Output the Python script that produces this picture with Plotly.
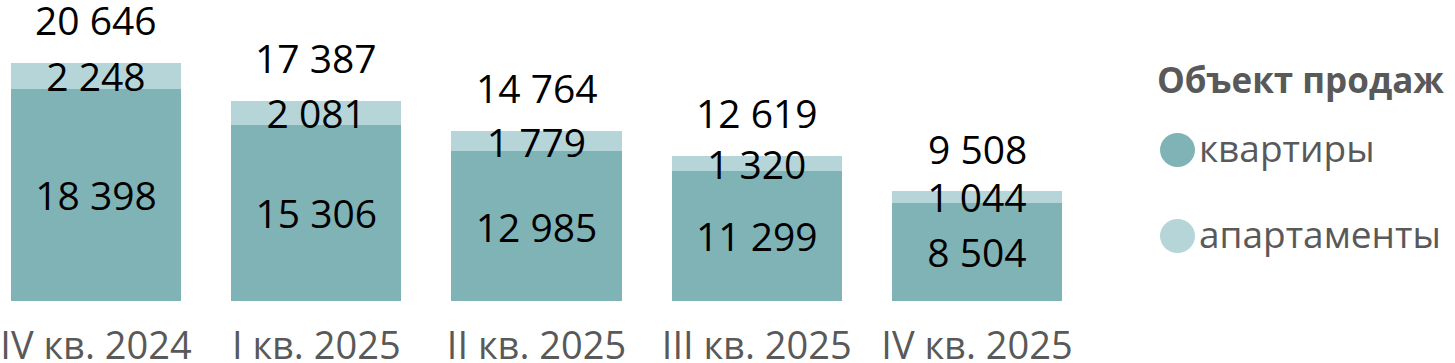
import plotly.graph_objects as go

categories = ["IV кв. 2024", "I кв. 2025", "II кв. 2025", "III кв. 2025", "IV кв. 2025"]
apartments_flats = [18398, 15306, 12985, 11299, 8504]   # квартиры
apartments = [2248, 2081, 1779, 1320, 1044]             # апартаменты
totals = [20646, 17387, 14764, 12619, 9508]

series_names = ["квартиры", "апартаменты"]
colors = ["#80b3b6", "#b6d5d9"]
legend_title = "Объект продаж"

FONT = "Open Sans"
NUM_SIZE = 39
TICK_SIZE = 38
LEG_SIZE = 37
GREY = "#595959"

# page body margin is removed by post_script, so the figure sits at (0, 0)
OFF = 0
FIG_W, FIG_H = 1455 - OFF, 363 - OFF
PLOT_RIGHT = 1100            # page px
PLOT_BOTTOM = 301            # page px
PLOT_W = PLOT_RIGHT - OFF
PLOT_H = PLOT_BOTTOM - OFF
STEP = 220.25                # px per category
FIRST_CENTER = 96            # page px

def fmt(v):
    return f"{v:,}".replace(",", " ")

fig = go.Figure()
for name, vals, col in zip(series_names, [apartments_flats, apartments], colors):
    fig.add_trace(go.Bar(
        x=categories, y=vals, name=name, marker=dict(color=col, line=dict(width=0)),
        text=[fmt(v) for v in vals], textposition="inside", insidetextanchor="middle",
        constraintext="none", textangle=0, cliponaxis=False,
        insidetextfont=dict(family=FONT, size=NUM_SIZE, color="#000000"),
        width=0.772, showlegend=False, hoverinfo="skip",
    ))

annotations = []
for c, t in zip(categories, totals):
    annotations.append(dict(x=c, y=t, text=fmt(t), showarrow=False, yanchor="middle",
                            yshift=43, font=dict(family=FONT, size=NUM_SIZE, color="#000000")))

def px(x):
    return (x - OFF) / PLOT_W
def py(y):
    return (PLOT_BOTTOM - y) / PLOT_H

annotations.append(dict(xref="paper", yref="paper", x=px(1155), y=py(80), text="<b>" + legend_title + "</b>",
                        showarrow=False, xanchor="left", yanchor="middle",
                        font=dict(family=FONT, size=35, color=GREY)))
shapes = []
for i, (name, col) in enumerate(zip(series_names, colors)):
    cy = 150 + i * 86
    annotations.append(dict(xref="paper", yref="paper", x=px(1197), y=py(cy - 3), text=name,
                            showarrow=False, xanchor="left", yanchor="middle",
                            font=dict(family=FONT, size=LEG_SIZE, color=GREY)))
    shapes.append(dict(type="circle", xref="paper", yref="paper",
                       x0=px(1160), x1=px(1195), y0=py(cy + 17), y1=py(cy - 17),
                       fillcolor=col, line=dict(width=0)))

x0 = -(FIRST_CENTER - OFF) / STEP
fig.update_layout(
    barmode="stack",
    width=FIG_W, height=FIG_H,
    margin=dict(l=0, r=FIG_W - PLOT_W, t=0, b=FIG_H - PLOT_H, autoexpand=False),
    paper_bgcolor="white", plot_bgcolor="white",
    annotations=annotations, shapes=shapes,
    showlegend=False,
    xaxis=dict(range=[x0, x0 + PLOT_W / STEP], showgrid=False, showline=False,
               zeroline=False, ticks="outside", ticklen=11, tickcolor="rgba(0,0,0,0)",
               automargin=False,
               tickfont=dict(family=FONT, size=TICK_SIZE, color=GREY)),
    yaxis=dict(range=[0, PLOT_H / 0.011528], visible=False, showgrid=False, zeroline=False,
               automargin=False),
)

fig.write_html("out.html", config={"displayModeBar": False, "staticPlot": True},
               post_script="document.body.style.margin='0';document.body.style.overflow='hidden';")
